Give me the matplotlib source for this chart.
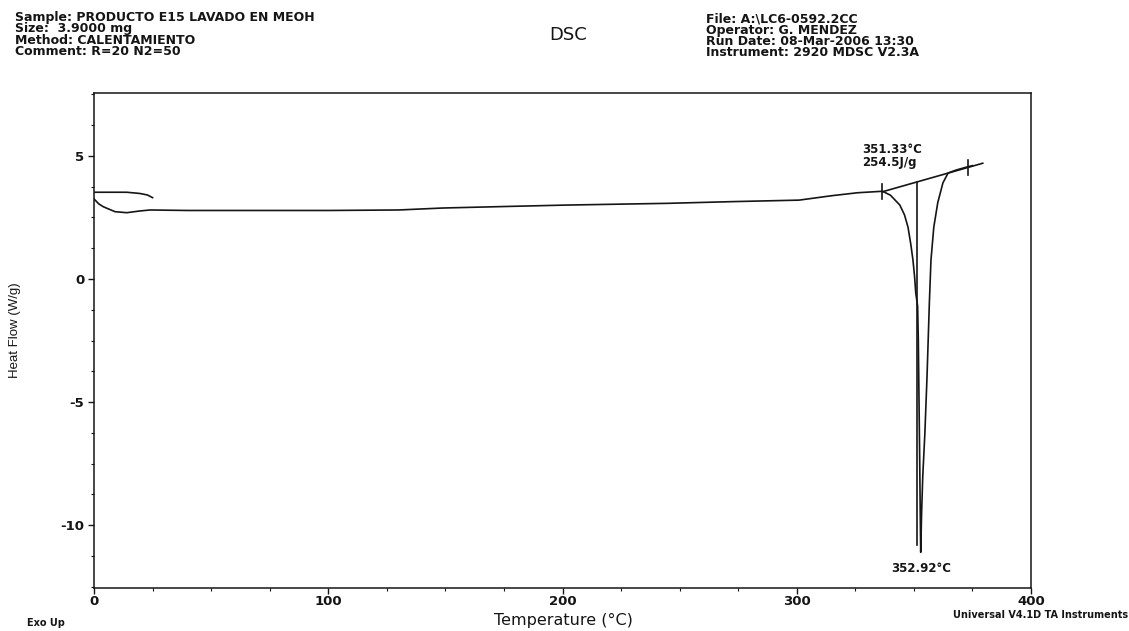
import numpy as np
import matplotlib.pyplot as plt
import matplotlib.ticker as ticker

plt.rcParams["font.family"] = ["DejaVu Sans"]
plt.rcParams["axes.unicode_minus"] = False

# DSC heating scan, heat flow vs temperature
temp_c = [0.0, 2.0, 4.0, 9.0, 14.0, 19.6, 24.0, 40.0, 71.0, 100.0, 130.0,
          149.0, 175.0, 202.0, 245.0, 273.0, 301.0, 315.0, 326.0, 336.6,
          340.0, 344.0, 346.0, 347.5, 348.7, 349.6, 350.3, 350.8, 351.6,
          351.9, 352.2, 352.5, 352.75, 352.92, 353.3, 353.8, 354.7, 355.6,
          356.6, 357.3, 358.5, 360.2, 362.4, 364.6, 368.0, 373.2, 375.0]
heat_flow = [3.25, 3.05, 2.93, 2.73, 2.69, 2.76, 2.80, 2.78, 2.78, 2.78, 2.80,
             2.88, 2.94, 3.00, 3.07, 3.14, 3.20, 3.38, 3.50, 3.56,
             3.40, 3.00, 2.60, 2.10, 1.40, 0.77, 0.10, -0.57, -1.10,
             -2.50, -5.00, -7.50, -9.80, -11.10, -9.50, -8.00, -6.25, -4.00,
             -1.00, 0.77, 2.10, 3.10, 3.90, 4.30, 4.42, 4.56, 4.60]

# initial equilibration segment
equil_temp = [0.4, 14.0, 19.6, 22.8, 25.0]
equil_flow = [3.52, 3.52, 3.47, 3.41, 3.30]

# peak integration: baseline limits and results
base_start = (336.6, 3.54)
base_stop = (373.2, 4.53)
base_end_t = 379.4
onset_c = 351.33
enthalpy_jg = 254.5
peak_c = 352.92
peak_flow = -11.10

fig = plt.figure(figsize=(11.29, 6.31), dpi=100)
W, H = 1129, 631


def fx(px):
    return px / W


def fy(py):
    return 1 - py / H


ax_l, ax_r, ax_t, ax_b = 94, 1031, 93, 588
ax = fig.add_axes([fx(ax_l), fy(ax_b), (ax_r - ax_l) / W, (ax_b - ax_t) / H])
ink = "#151515"

ax.plot(temp_c, heat_flow, color=ink, lw=1.2)
ax.plot(equil_temp, equil_flow, color=ink, lw=1.2)

# sloped baseline across the melting peak
slope = (base_stop[1] - base_start[1]) / (base_stop[0] - base_start[0])
bx = [base_start[0], base_end_t]
by = [base_start[1], base_start[1] + slope * (base_end_t - base_start[0])]
ax.plot(bx, by, color=ink, lw=1.2)
for t, v in (base_start, base_stop):
    ax.plot([t, t], [v - 0.3, v + 0.3], color=ink, lw=1.2)

# partial-area line at the onset
y_on = base_start[1] + slope * (onset_c - base_start[0])
ax.plot([onset_c, onset_c], [y_on, peak_flow + 0.3], color=ink, lw=1.2)

ax.text(onset_c - 23.3, y_on + 1.05, f"{onset_c:.2f}°C\n{enthalpy_jg}J/g",
        fontsize=8.5, fontweight="bold", ha="left", va="center",
        linespacing=1.0, color=ink)
ax.text(peak_c, peak_flow - 0.65, f"{peak_c:.2f}°C", fontsize=8.5,
        fontweight="bold", ha="center", va="center", color=ink)

ax.set_xlim(0, 400)
ax.set_ylim(-12.55, 7.55)
ax.xaxis.set_major_locator(ticker.MultipleLocator(100))
ax.xaxis.set_minor_locator(ticker.MultipleLocator(25))
ax.yaxis.set_major_locator(ticker.MultipleLocator(5))
ax.yaxis.set_minor_locator(ticker.MultipleLocator(1.25))
ax.tick_params(which="major", direction="out", length=4, width=1,
               labelsize=9.5, colors=ink, pad=3)
ax.tick_params(which="minor", direction="out", length=2.5, width=0.8,
               colors=ink)
ax.tick_params(axis="x", which="major", pad=1)
for lab in ax.get_xticklabels() + ax.get_yticklabels():
    lab.set_fontweight("bold")
for s in ax.spines.values():
    s.set_color(ink)
    s.set_linewidth(1.1)

ax.set_ylabel("Heat Flow (W/g)", fontsize=9.5, color=ink,
              family="Liberation Sans")
ax.yaxis.set_label_coords((21 - ax_l) / (ax_r - ax_l), 0.52)

# header block
left_lines = ["Sample: PRODUCTO E15 LAVADO EN MEOH", "Size:  3.9000 mg",
              "Method: CALENTAMIENTO", "Comment: R=20 N2=50"]
right_lines = ["File: A:\\LC6-0592.2CC", "Operator: G. MENDEZ",
               "Run Date: 08-Mar-2006 13:30", "Instrument: 2920 MDSC V2.3A"]
for i, (l, r) in enumerate(zip(left_lines, right_lines)):
    fig.text(fx(15), fy(17 + 11.5 * i), l, fontsize=9, fontweight="bold",
             ha="left", va="center", color=ink)
    fig.text(fx(706), fy(19 + 11.3 * i), r, fontsize=9, fontweight="bold",
             ha="left", va="center", color=ink)
fig.text(fx(568), fy(35), "DSC", fontsize=13, ha="center", va="center",
         color=ink)

fig.text(fx(563), fy(620), "Temperature (°C)", fontsize=11.5, ha="center",
         va="center", color=ink)
fig.text(fx(27), fy(623), "Exo Up", fontsize=7, fontweight="bold",
         ha="left", va="center", color=ink)
fig.text(fx(1128), fy(615), "Universal V4.1D TA Instruments", fontsize=7,
         fontweight="bold", ha="right", va="center", color=ink)

fig.savefig("out.png", dpi=100)
